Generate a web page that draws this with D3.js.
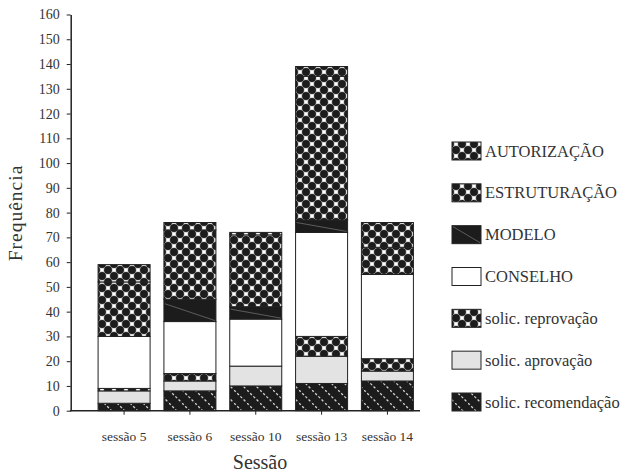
<!DOCTYPE html>
<html>
<head>
<meta charset="utf-8">
<script src="https://cdn.jsdelivr.net/npm/d3@7"></script>
<style>
  body { margin: 0; background: #fff; }
  svg text { font-family: "Liberation Serif", "Times New Roman", serif !important; fill: #333; }
  .axis path, .axis line { stroke: #222; }
</style>
</head>
<body>
<svg width="620" height="473"></svg>
<script>
// **** data ****
var sessions = ['sessão 5', 'sessão 6', 'sessão 10', 'sessão 13', 'sessão 14'];
var recomendacao = [3, 8, 10, 11, 12];
var aprovacao = [5, 4, 8, 11, 4];
var reprovacao = [1, 3, 0, 8, 5];
var conselho = [21, 21, 19, 42, 34];
var modelo = [0, 9, 5, 5, 0];
var estruturacao = [22, 28, 29, 58, 11];
var autorizacao = [7, 3, 1, 4, 10];
var yTicks = d3.range(0, 161, 10);

// stacking order, bottom to top
var seriesNames = ['solic. recomendação', 'solic. aprovação', 'solic. reprovação',
    'CONSELHO', 'MODELO', 'ESTRUTURAÇÃO', 'AUTORIZAÇÃO'];
var seriesValues = [recomendacao, aprovacao, reprovacao, conselho, modelo, estruturacao, autorizacao];
var seriesFill = ['url(#diag)', '#e3e3e3', 'url(#lattice)', '#fff', '#1c1c1c', 'url(#lattice)', 'url(#lattice)'];

var svg = d3.select('svg');

// **** patterns ****
var defs = svg.append('defs');

// dark rounded blobs on a diamond grid, light X-shaped gaps between them
var lat = defs.append('pattern').attr('id', 'lattice')
    .attr('patternUnits', 'userSpaceOnUse')
    .attr('width', 12).attr('height', 12);
lat.append('rect').attr('width', 12).attr('height', 12).attr('fill', '#d4d4d4');
[[6, 0], [0, 6], [12, 6], [6, 12]].forEach(function (c) {
    lat.append('circle').attr('cx', c[0]).attr('cy', c[1]).attr('r', 3.95).attr('fill', '#1c1c1c');
});
[[0, 0], [12, 0], [0, 12], [12, 12], [6, 6]].forEach(function (c) {
    lat.append('rect').attr('x', c[0] - 1.1).attr('y', c[1] - 1.1)
        .attr('width', 2.2).attr('height', 2.2).attr('fill', '#fff');
});

var diag = defs.append('pattern').attr('id', 'diag')
    .attr('patternUnits', 'userSpaceOnUse')
    .attr('width', 13).attr('height', 13);
diag.append('rect').attr('width', 13).attr('height', 13).attr('fill', '#1c1c1c');
diag.append('line').attr('x1', 0).attr('y1', 0).attr('x2', 13).attr('y2', 13)
    .attr('stroke', '#cfcfcf').attr('stroke-width', 1.3).attr('stroke-dasharray', '2.5,2');

// **** scales ****
var yScale = d3.scaleLinear().domain([0, 160]).range([410.7, 14.5]);
var xScale = d3.scaleBand().domain(sessions).range([91.5, 420])
    .paddingInner(0.21).paddingOuter(0.1);

// **** stacked bars ****
var table = sessions.map(function (s, i) {
    var row = { session: s };
    seriesNames.forEach(function (n, k) { row[n] = seriesValues[k][i]; });
    return row;
});
var stacked = d3.stack().keys(seriesNames)(table);

stacked.forEach(function (layer, k) {
    var g = svg.append('g').attr('class', 'layer');
    layer.forEach(function (d) {
        var h = yScale(d[0]) - yScale(d[1]);
        if (h <= 0) return;
        var x0 = xScale(d.data.session);
        var w = xScale.bandwidth();
        g.append('rect')
            .attr('x', x0).attr('y', yScale(d[1]))
            .attr('width', w).attr('height', h)
            .attr('fill', seriesFill[k])
            .attr('stroke', '#222').attr('stroke-width', 1);
        if (seriesNames[k] === 'MODELO') {
            g.append('line')
                .attr('x1', x0 + 1).attr('y1', yScale(d[1]) + h * 0.2)
                .attr('x2', x0 + w - 1).attr('y2', yScale(d[0]) - 1)
                .attr('stroke', '#888').attr('stroke-width', 0.6);
        }
    });
});

// **** axes ****
svg.append('g').attr('class', 'y axis')
    .attr('transform', 'translate(70.7,0)')
    .call(d3.axisLeft(yScale).tickValues(yTicks).tickSize(4).tickPadding(7).tickSizeOuter(0))
    .call(function (g) {
        g.attr('font-family', null);
        g.select('.domain').attr('stroke-width', 1.5);
        g.selectAll('text').style('font-size', '14px').attr('fill', '#333');
    });

svg.append('g').attr('class', 'x axis')
    .attr('transform', 'translate(0,410.7)')
    .call(d3.axisBottom(xScale).tickSize(4).tickPadding(17).tickSizeOuter(0))
    .call(function (g) {
        g.attr('font-family', null);
        g.select('.domain').remove();
        g.selectAll('text').style('font-size', '13.5px').attr('fill', '#333');
    });

svg.append('line')
    .attr('x1', 70).attr('x2', 420)
    .attr('y1', 410.7).attr('y2', 410.7)
    .attr('stroke', '#222').attr('stroke-width', 1.5);

// axis titles
svg.append('text')
    .attr('x', 260).attr('y', 469)
    .attr('text-anchor', 'middle')
    .style('font-size', '20px')
    .text('Sessão');

svg.append('text')
    .attr('transform', 'translate(22,213) rotate(-90)')
    .attr('text-anchor', 'middle')
    .style('font-size', '19.5px')
    .style('letter-spacing', '1px')
    .text('Frequência');

// **** legend ****
var legendOrder = seriesNames.slice().reverse();
var legendY = d3.scalePoint().domain(legendOrder).range([151, 402]);

legendOrder.forEach(function (n) {
    var k = seriesNames.indexOf(n);
    var cy = legendY(n);
    svg.append('rect')
        .attr('x', 452).attr('y', cy - 9)
        .attr('width', 29).attr('height', 18)
        .attr('fill', seriesFill[k])
        .attr('stroke', '#222').attr('stroke-width', 1);
    if (n === 'MODELO') {
        svg.append('line')
            .attr('x1', 453).attr('y1', cy - 8)
            .attr('x2', 480).attr('y2', cy + 8)
            .attr('stroke', '#888').attr('stroke-width', 0.6);
    }
    svg.append('text')
        .attr('x', 485).attr('y', cy + 5.5)
        .style('font-size', '16.5px')
        .text(n);
});
</script>
</body>
</html>
